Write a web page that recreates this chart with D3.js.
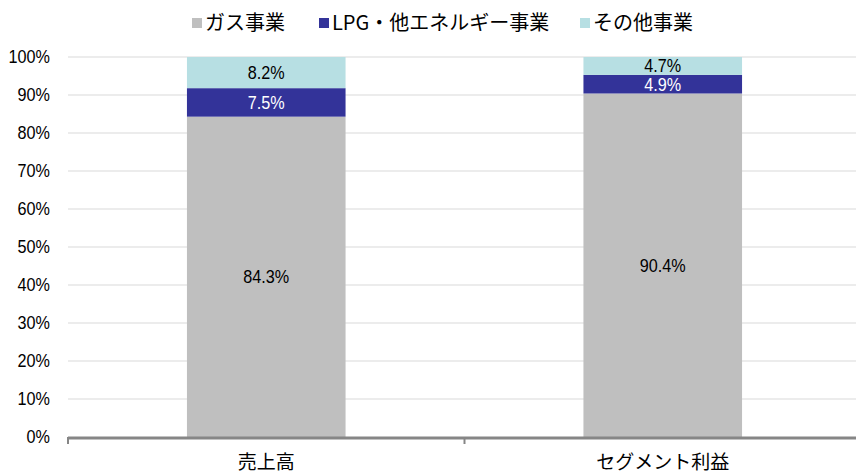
<!DOCTYPE html>
<html>
<head>
<meta charset="utf-8">
<script src="https://cdn.jsdelivr.net/npm/d3@7"></script>
<style>
  body { margin: 0; background: #fff; }
  text { font-family: "Noto Sans CJK JP", sans-serif; }
  .num { font-family: "Liberation Sans", Arial, sans-serif; }
</style>
</head>
<body>
<div id="chart"></div>
<script>
var svgWidth = 856;
var svgHeight = 475;

// data
var categories = ["売上高", "セグメント利益"];
var seriesNames = ["ガス事業", "LPG・他エネルギー事業", "その他事業"];
var gasValues = [84.3, 90.4];
var lpgValues = [7.5, 4.9];
var otherValues = [8.2, 4.7];
var yTicks = [0, 10, 20, 30, 40, 50, 60, 70, 80, 90, 100];

var colors = ["#bfbfbf", "#333399", "#b7dfe3"];
var labelColors = ["#000", "#fff", "#000"];

var margin = { top: 57, left: 68, bottom: 38, right: -5 };
var plotRight = svgWidth - margin.right;
var plotBottom = svgHeight - margin.bottom;

var svg = d3.select("#chart")
  .append("svg")
  .attr("width", svgWidth)
  .attr("height", svgHeight);

var x = d3.scaleBand()
  .domain(categories)
  .range([margin.left, plotRight])
  .paddingInner(0.6)
  .paddingOuter(0.3);

var y = d3.scaleLinear()
  .domain([0, 100])
  .range([plotBottom, margin.top]);

// gridlines
svg.append("g")
  .selectAll("line")
  .data(yTicks.slice(1))
  .enter()
  .append("line")
  .attr("x1", margin.left)
  .attr("x2", svgWidth)
  .attr("y1", d => y(d))
  .attr("y2", d => y(d))
  .attr("stroke", "#d9d9d9")
  .attr("stroke-width", 1);

// stack
var rows = categories.map(function(c, i) {
  return { cat: c, gas: gasValues[i], lpg: lpgValues[i], other: otherValues[i] };
});
var stack = d3.stack().keys(["gas", "lpg", "other"])(rows);

stack.forEach(function(layer, li) {
  var g = svg.append("g");
  g.selectAll("rect")
    .data(layer)
    .enter()
    .append("rect")
    .attr("x", d => x(d.data.cat))
    .attr("width", x.bandwidth())
    .attr("y", d => y(d[1]))
    .attr("height", d => y(d[0]) - y(d[1]))
    .attr("fill", colors[li]);

  // narrow-looking labels
  g.selectAll("text")
    .data(layer)
    .enter()
    .append("text")
    .attr("class", "num")
    .attr("transform", d => `translate(${x(d.data.cat) + x.bandwidth() / 2}, ${(y(d[0]) + y(d[1])) / 2}) scale(0.9, 1)`)
    .attr("dy", "0.36em")
    .attr("text-anchor", "middle")
    .attr("font-size", "18px")
    .attr("fill", labelColors[li])
    .text(d => (d[1] - d[0]).toFixed(1) + "%");
});

// y axis labels
var leftAxis = d3.axisLeft(y)
  .tickValues(yTicks)
  .tickSize(0)
  .tickPadding(20)
  .tickFormat(d => d + "%");

svg.append("g")
  .attr("transform", `translate(${margin.left}, 0)`)
  .call(leftAxis)
  .call(g => g.select(".domain").remove())
  .call(g => g.selectAll("text")
    .attr("class", "num")
    .attr("transform", "scale(0.9, 1)")
    .attr("font-size", "18px")
    .attr("fill", "#000")
    .style("font-family", "'Liberation Sans', Arial, sans-serif"));

// x axis
var bottomAxis = d3.axisBottom(x).tickSize(0).tickPadding(19);
svg.append("g")
  .attr("transform", `translate(0, ${plotBottom})`)
  .call(bottomAxis)
  .call(g => g.select(".domain").remove())
  .call(g => g.selectAll("text")
    .attr("font-size", "19px")
    .attr("fill", "#000")
    .style("font-family", "'Noto Sans CJK JP', sans-serif"));

svg.append("line")
  .attr("x1", margin.left)
  .attr("x2", svgWidth)
  .attr("y1", plotBottom + 1)
  .attr("y2", plotBottom + 1)
  .attr("stroke", "#868686")
  .attr("stroke-width", 3);

// category boundary ticks
var boundaries = [margin.left, margin.left + x.step(), margin.left + 2 * x.step()];
svg.append("g")
  .selectAll("line")
  .data(boundaries)
  .enter()
  .append("line")
  .attr("x1", d => d)
  .attr("x2", d => d)
  .attr("y1", plotBottom)
  .attr("y2", plotBottom + 7)
  .attr("stroke", "#868686")
  .attr("stroke-width", 2);

// legend
var legendX = [192, 319, 580];
var legend = svg.append("g");
seriesNames.forEach(function(name, i) {
  legend.append("rect")
    .attr("x", legendX[i])
    .attr("y", 18)
    .attr("width", 10)
    .attr("height", 10)
    .attr("fill", colors[i]);
  legend.append("text")
    .attr("x", legendX[i] + 13)
    .attr("y", 23)
    .attr("dy", "0.35em")
    .attr("font-size", "20px")
    .attr("fill", "#000")
    .text(name);
});
</script>
</body>
</html>
